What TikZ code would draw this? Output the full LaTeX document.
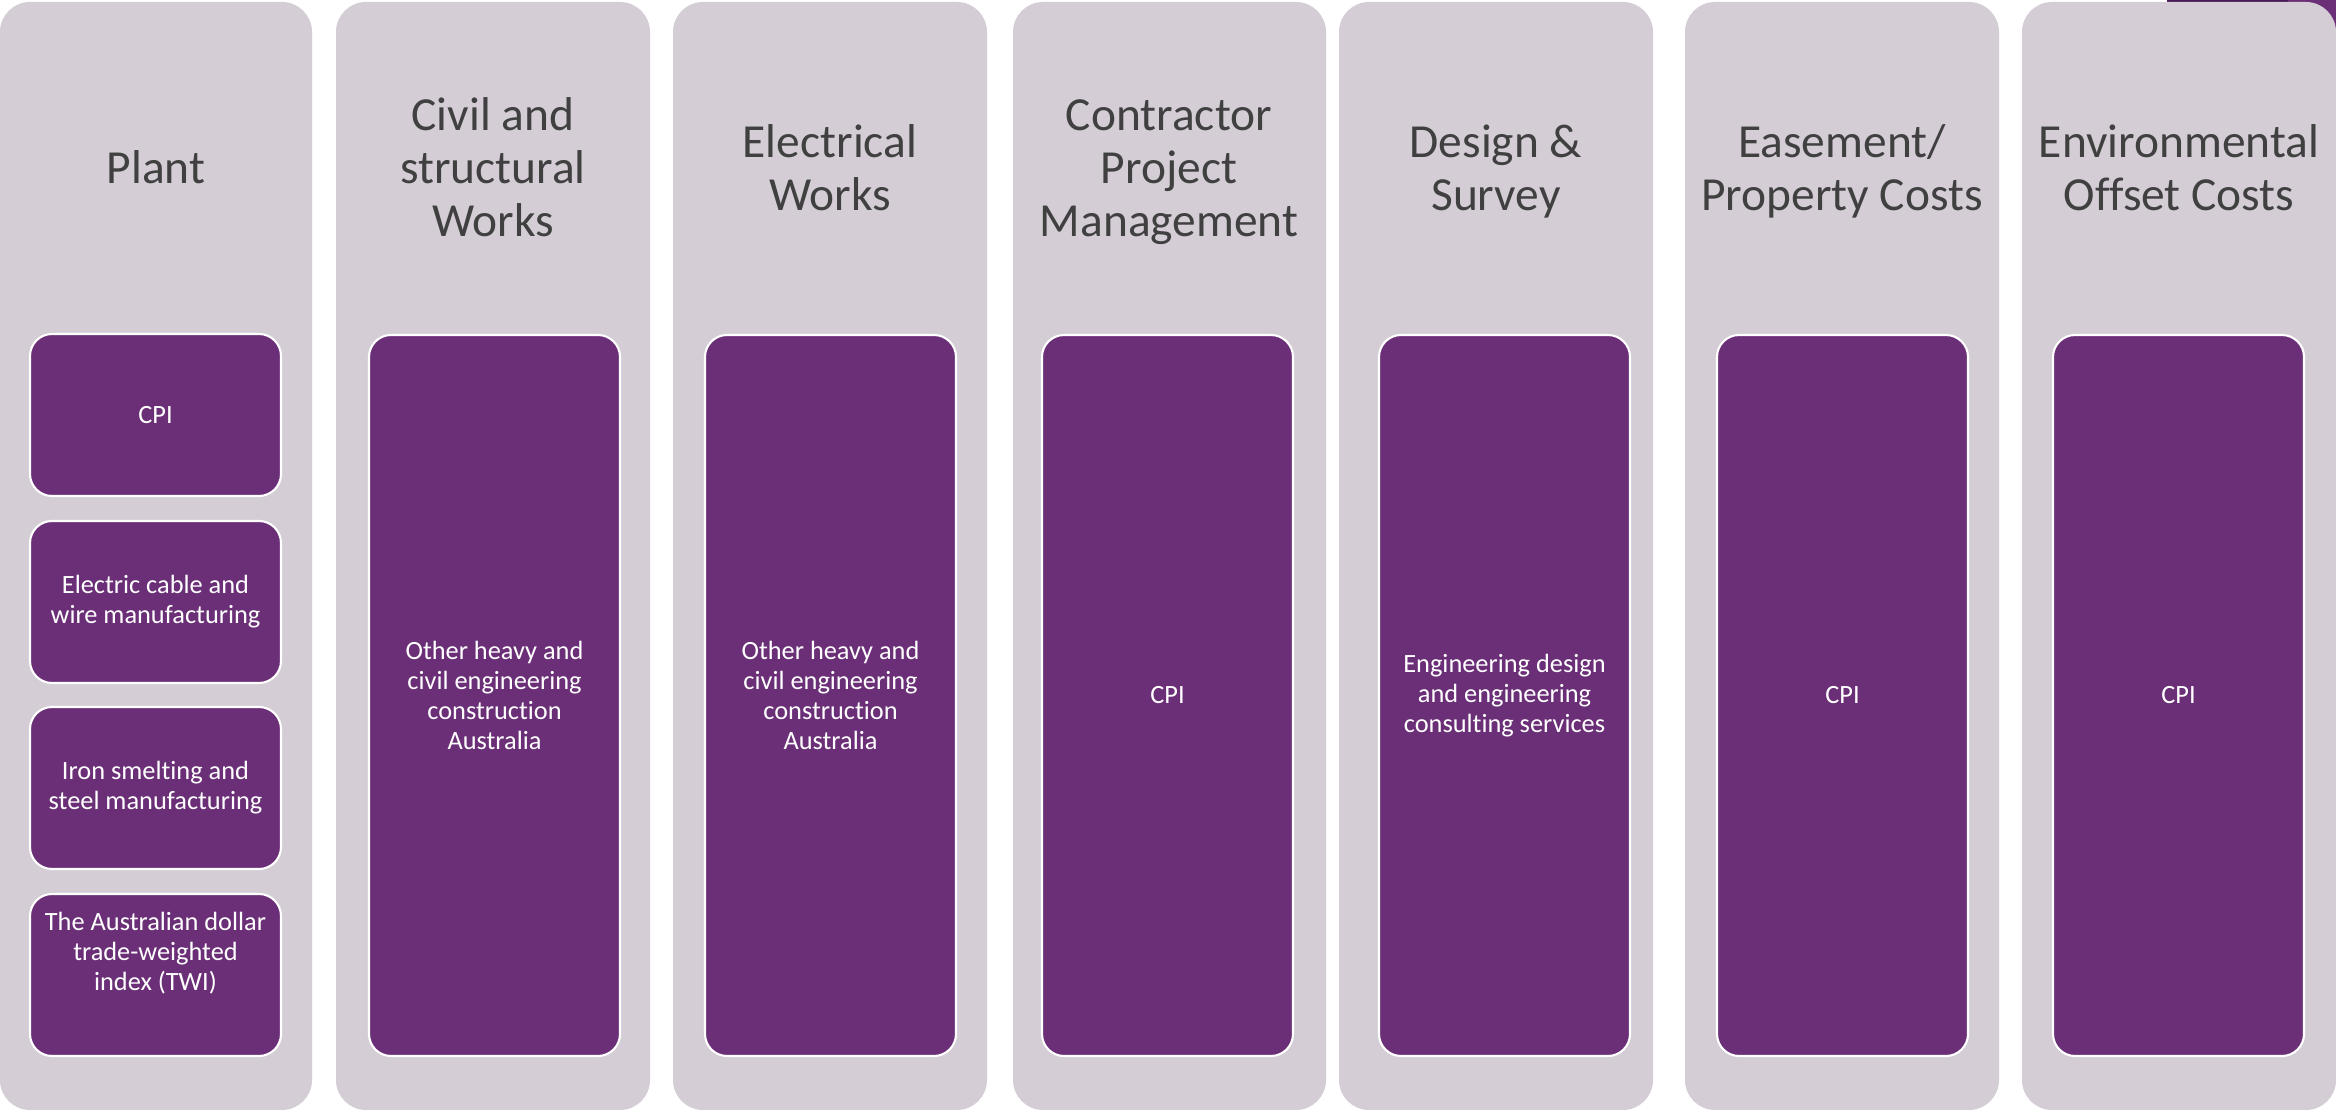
\documentclass[tikz,border=0pt]{standalone}
\usepackage{fontspec}
\setmainfont[Ligatures={NoCommon}]{Carlito}
\definecolor{colbg}{HTML}{D4CDD6}
\definecolor{boxfill}{HTML}{6B2F77}
\definecolor{titlecol}{HTML}{404040}
\definecolor{darkpurp}{HTML}{4A1A56}
\begin{document}
\begin{tikzpicture}[x=0.1mm,y=-0.1mm,
  colbox/.style={fill=colbg, rounded corners=3mm, inner sep=0pt, outer sep=0pt,
    anchor=north west, minimum height=110.8mm},
  itembox/.style={fill=boxfill, draw=white, line width=0.6pt, rounded corners=2.2mm,
    inner sep=0pt, outer sep=0pt, anchor=north west, minimum width=25.1mm,
    text=white, align=center, font=\fontsize{7.5}{8.5}\selectfont},
  bigbox/.style={itembox, minimum height=72.1mm},
  smallbox/.style={itembox, minimum height=16.2mm},
  heading/.style={text=titlecol, align=center, inner sep=0pt,
    font=\fontsize{13.5}{15.1}\selectfont},
  boxtext/.style={text=white, align=center, inner sep=0pt,
    font=\fontsize{7.5}{8.5}\selectfont}]
\useasboundingbox (0,0) rectangle (2336,1111);
\fill[white] (0,0) rectangle (2336,1111);
% slide artefact behind the last column
\fill[darkpurp] (2167,0) rectangle (2288,4);
\fill[boxfill] (2288,0) rectangle (2336,40);
% columns
\node[colbox, minimum width=31.2mm] (c1) at (0,2) {};
\node[colbox, minimum width=31.4mm] (c2) at (336,2) {};
\node[colbox, minimum width=31.4mm] (c3) at (673,2) {};
\node[colbox, minimum width=31.3mm] (c4) at (1013,2) {};
\node[colbox, minimum width=31.4mm] (c5) at (1339,2) {};
\node[colbox, minimum width=31.4mm] (c6) at (1685,2) {};
\node[colbox, minimum width=31.4mm] (c7) at (2022,2) {};
% headings
\node[heading] (h1) at (156,173) {\strut Plant\strut};
\node[heading] (h2) at (493,173) {\strut Civil and\\structural\\Works\strut};
\node[heading] (h3) at (830,173) {\strut Electrical\\Works\strut};
\node[heading] (h4) at (1169,173) {\strut Contractor\\Project\\Management\strut};
\node[heading] (h5) at (1496,173) {\strut Design \&\\Survey\strut};
\node[heading] (h6) at (1842,173) {\strut Easement/\\Property Costs\strut};
\node[heading] (h7) at (2179,173) {\strut Environmental\\Offset Costs\strut};
% plant items
\node[smallbox] (p1) at (30,334) {CPI};
\node[smallbox] (p2) at (30,521) {Electric cable and\\wire manufacturing};
\node[smallbox] (p3) at (30,707) {Iron smelting and\\steel manufacturing};
\node[smallbox] (p4) at (30,894) {};
\node[boxtext] (p4t) at (155.5,953) {The Australian dollar\\trade-weighted\\index (TWI)};
% other columns
\node[bigbox] (b2) at (369,335) {Other heavy and\\civil engineering\\construction\\Australia};
\node[bigbox] (b3) at (705,335) {Other heavy and\\civil engineering\\construction\\Australia};
\node[bigbox] (b4) at (1042,335) {CPI};
\node[bigbox] (b5) at (1379,335) {Engineering design\\and engineering\\consulting services};
\node[bigbox] (b6) at (1717,335) {CPI};
\node[bigbox] (b7) at (2053,335) {CPI};
\end{tikzpicture}
\end{document}
